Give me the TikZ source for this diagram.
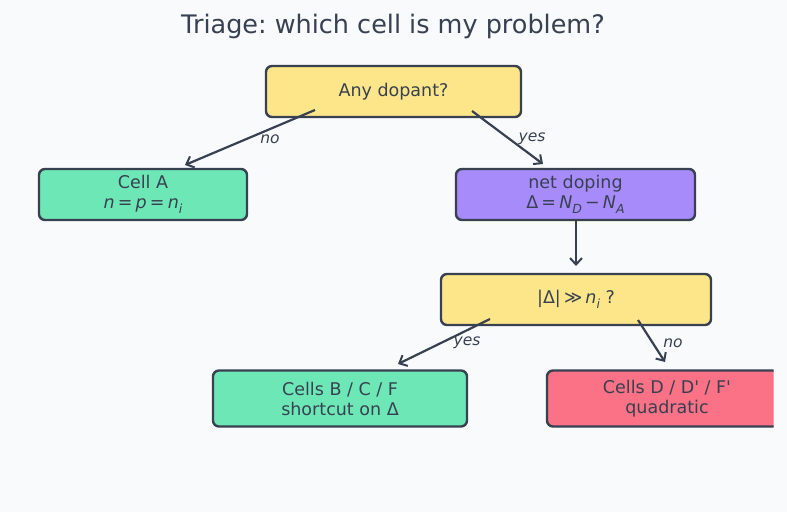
\documentclass[tikz,border=0pt]{standalone}
\usepackage{fontspec}
\setmainfont{DejaVu Sans}[Ligatures=NoCommon]
\usetikzlibrary{arrows.meta,calc}
\definecolor{ink}{HTML}{374151}
\definecolor{bg}{HTML}{F9FAFC}
\definecolor{yel}{HTML}{FDE68A}
\definecolor{grn}{HTML}{6EE7B7}
\definecolor{pur}{HTML}{A78BFA}
\definecolor{red}{HTML}{FB7185}
\frenchspacing
\newcommand\mysub[1]{\raisebox{-0.28em}{\fontsize{12.5}{12.5}\selectfont\itshape #1}}
\newcommand\msp{\hspace{0.18em}}
\newcommand\apos{\XeTeXglyph\XeTeXcharglyph"0027\relax}
\tikzset{
  box/.style={draw=ink, line width=2.4pt, rounded corners=6pt, inner sep=0pt, align=center,
    text=ink, font=\fontsize{17.5}{21}\selectfont},
  arr/.style={draw=ink, line width=2.2pt, -{Straight Barb[length=6.5pt,width=12pt,line width=2pt]}},
  lab/.style={text=ink, font=\fontsize{15.5}{18}\selectfont\itshape},
}
\begin{document}
\begin{tikzpicture}[x=1pt,y=-1pt]
\fill[bg] (0,0) rectangle (787,512);
\useasboundingbox (0,0) rectangle (787,512);
\node[text=ink, font=\fontsize{25.5}{30}\selectfont] (title) at (393,26) {Triage: which cell is my problem?};
\node[box, fill=yel, minimum width=255pt, minimum height=51pt] (dop) at (393.5,91.5) {Any dopant?};
\node[box, fill=grn, minimum width=208pt, minimum height=51pt] (cella) at (143,194.5) {Cell A\\[-1pt]{\itshape n}\msp=\msp{\itshape p}\msp=\msp{\itshape n}\mysub{i}};
\node[box, fill=pur, minimum width=239pt, minimum height=51pt] (net) at (575.5,194.5) {net doping\\[-1pt]Δ\msp=\msp{\itshape N}\mysub{D}\msp−\msp{\itshape N}\mysub{A}};
\node[box, fill=yel, minimum width=270pt, minimum height=51pt] (big) at (576,299.5) {|Δ|\msp≫\msp{\itshape n}\mysub{i} ?};
\node[box, fill=grn, minimum width=254pt, minimum height=56pt] (bcf) at (340,398.5) {Cells B / C / F\\[-1pt]shortcut on Δ};
\begin{scope}
\clip (0,0) rectangle (773.5,512);
\node[box, fill=red, minimum width=240pt, minimum height=56pt] (dd) at (667,398.5) {Cells D / D\apos{} / F\apos\\[-1pt]quadratic};
\end{scope}
\coordinate (a1s) at (315,110); \coordinate (a1e) at (185,165);
\coordinate (a2s) at (472,111); \coordinate (a2e) at (543,164);
\coordinate (a3s) at (576,220); \coordinate (a3e) at (576,266);
\coordinate (a4s) at (490,319); \coordinate (a4e) at (398,364);
\coordinate (a5s) at (638,320); \coordinate (a5e) at (665,362);
\draw[arr] (a1s) -- (a1e);
\draw[arr] (a2s) -- (a2e);
\draw[arr] (a3s) -- (a3e);
\draw[arr] (a4s) -- (a4e);
\draw[arr] (a5s) -- (a5e);
\node[lab] (l1) at (270,139) {no};
\node[lab] (l2) at (532,139) {yes};
\node[lab] (l4) at (467,343) {yes};
\node[lab] (l5) at (673,343) {no};
\end{tikzpicture}
\end{document}
